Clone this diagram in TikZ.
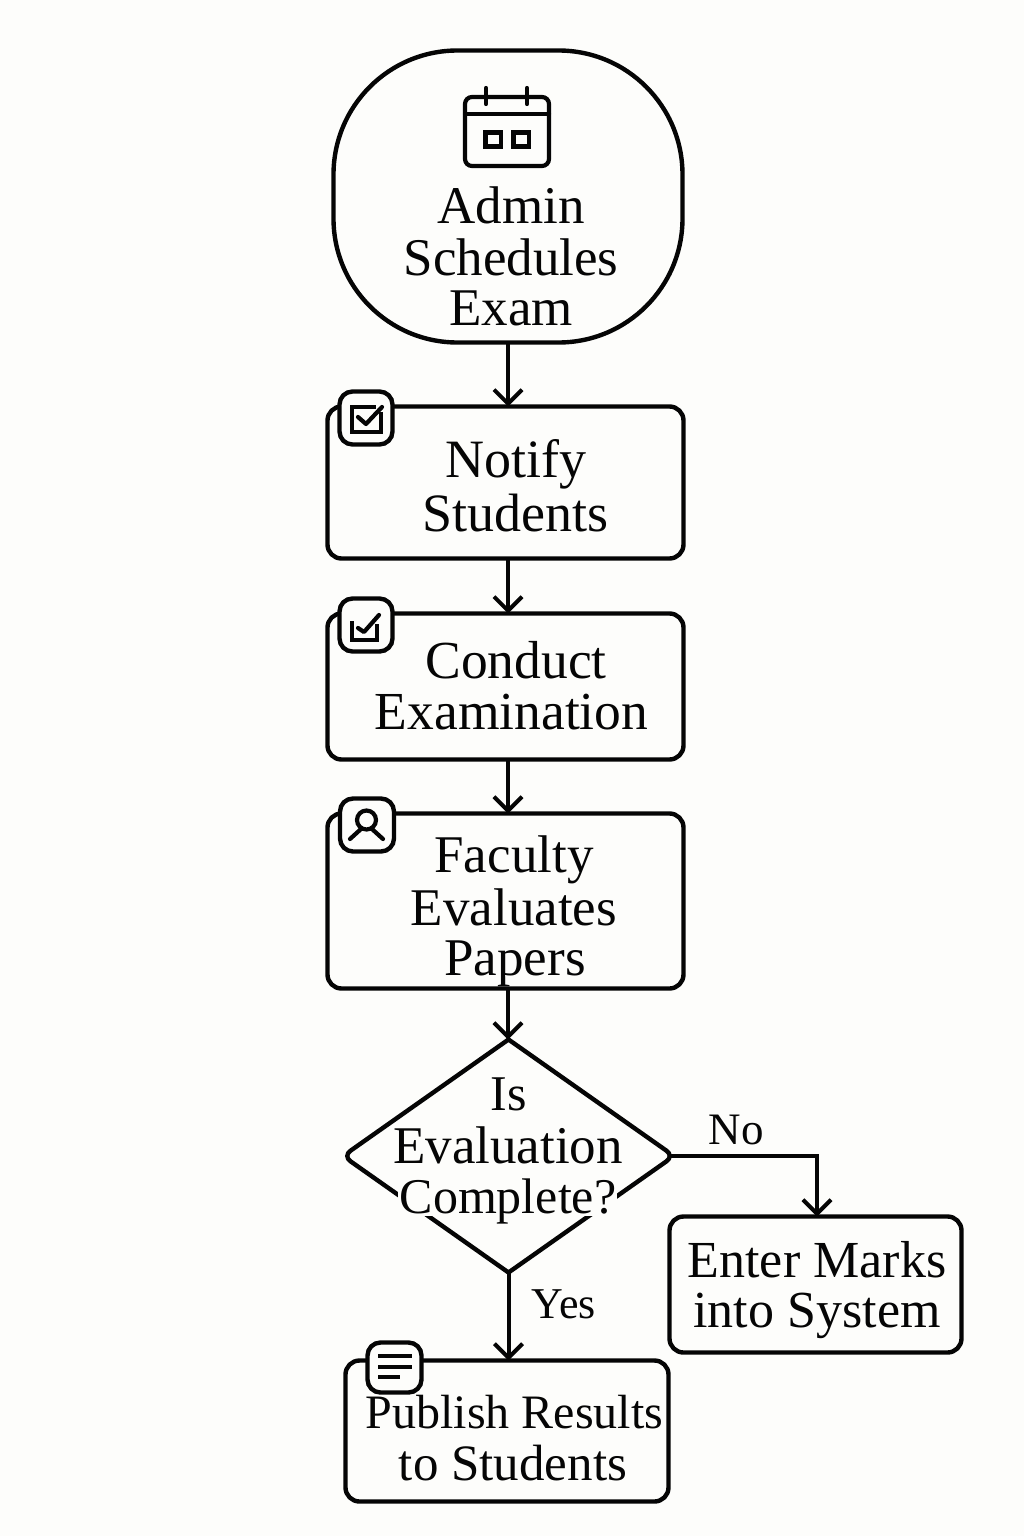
\documentclass[tikz,border=0pt]{standalone}
\usepackage{fontspec}
\setmainfont{Liberation Serif}
\usetikzlibrary{arrows.meta,shapes.geometric}
\definecolor{page}{HTML}{FDFDFB}
\definecolor{ink}{HTML}{050505}
\tikzset{
  outline/.style={draw=ink,line width=4.4pt,fill=page,inner sep=0pt,outer sep=0pt},
  startbox/.style={outline,rectangle,rounded corners=124pt},
  procbox/.style={outline,rectangle,rounded corners=14pt},
  badge/.style={outline,rectangle,rounded corners=13pt,minimum width=53pt,minimum height=53pt},
  decisionshape/.style={diamond,inner sep=0pt,outer sep=0pt,minimum width=331pt,minimum height=233pt},
  lbl/.style={inner sep=0pt,align=center,text=ink,font=\fontsize{#1}{50}\selectfont},
  lbl/.default=53,
  edgelbl/.style={inner sep=0pt,text=ink,anchor=base,font=\fontsize{#1}{50}\selectfont},
  flow/.style={draw=ink,line width=4pt,-{Straight Barb[length=14pt,width=28pt,line width=4pt]}},
  icon/.style={draw=ink,line width=4.2pt,line cap=round,line join=round},
}
\begin{document}
\begin{tikzpicture}[x=1pt,y=-1pt]
\useasboundingbox (0,0) rectangle (1024,1536);
\fill[page] (0,0) rectangle (1024,1536);

% shapes
\node[startbox,minimum width=349pt,minimum height=292pt] (start) at (508,196.5) {};
\node[procbox,minimum width=356pt,minimum height=152pt] (notify) at (505.5,482.5) {};
\node[procbox,minimum width=356pt,minimum height=146pt] (conduct) at (505.5,686.5) {};
\node[procbox,minimum width=356pt,minimum height=175pt] (faculty) at (505.5,901) {};
\node[decisionshape] (decision) at (508.5,1156) {};
\draw[draw=ink,line width=4.4pt,fill=page,line join=round]
  (decision.north) [rounded corners=9pt] -- (decision.east) [sharp corners] -- (decision.south)
  [rounded corners=9pt] -- (decision.west) [sharp corners] -- cycle;
\node[procbox,minimum width=292pt,minimum height=136pt] (enter) at (815.5,1284.5) {};
\node[procbox,minimum width=323pt,minimum height=141pt] (publish) at (507,1431) {};

% connectors
\draw[flow] (start.south) -- (start.south |- notify.north);
\draw[flow] (start.south |- notify.south) -- (start.south |- conduct.north);
\draw[flow] (start.south |- conduct.south) -- (start.south |- faculty.north);
\draw[flow] (start.south |- faculty.south) -- (start.south |- decision.north);
\draw[flow] (decision.south) -- (decision.south |- publish.north);
\draw[flow] ([xshift=-6pt]decision.east) -| ([xshift=1.5pt]enter.north);

% badges
\node[badge] (b1) at (366,418) {};
\node[badge] (b2) at (366,625) {};
\node[badge,minimum width=54pt] (b3) at (367,825) {};
\node[badge,minimum width=54pt,minimum height=50pt] (b4) at (394.5,1367.5) {};

% calendar icon
\draw[icon,rounded corners=7pt] (465,97) rectangle (549,166);
\draw[icon] (465,114) -- (549,114);
\draw[icon] (486,88) -- (486,104);
\draw[icon] (527,88) -- (527,104);
\draw[icon,line cap=butt,line join=miter] (485.5,132.5) rectangle (501,146.5);
\draw[icon,line cap=butt,line join=miter] (513.5,132.5) rectangle (529,146.5);

% notify check
\draw[icon,line cap=butt,line join=miter] (376,407) -- (352,407) -- (352,432) -- (381,432) -- (381,412);
\draw[icon] (358,417) -- (366,424) -- (382,407);
% conduct check
\draw[icon,line cap=butt,line join=miter] (352,621) -- (352,640) -- (377,640) -- (377,624);
\draw[icon] (358,628) -- (364,632) -- (379,615);
% person
\draw[icon] (366.5,820) circle (9.5pt);
\draw[icon] (361,829) -- (350,839);
\draw[icon] (372,829) -- (383,839);
% text lines
\draw[icon,line cap=butt] (378,1356) -- (412,1356);
\draw[icon,line cap=butt] (378,1367) -- (412,1367);
\draw[icon,line cap=butt] (378,1377) -- (400,1377);

% halo behind the decision's last line
\fill[page] (398,1178) rectangle (617,1216);

% labels
\node[lbl] (tstart) at (511,263.5) {\strut Admin\\\strut Schedules\\\strut Exam};
\node[lbl=54] (tnotify) at (515.5,493) {\strut Notify\\\strut Students};
\node[lbl=53.5] (tconduct) at (511.5,693) {\strut\hspace{9pt}Conduct\\\strut Examination};
\node[lbl=53] (tfaculty) at (514,913) {\strut Faculty\\\strut Evaluates\\\strut\hspace{2pt}Papers};
\node[lbl=50] (tdecision) at (508,1152) {\strut\hspace{2pt}Is\\\strut \fontsize{53}{50}\selectfont Evaluation\\\strut Complete?};
\node[lbl=52] (tenter) at (817,1292) {\strut Enter Marks\\\strut into System};
\node[lbl=48] (tpublish) at (513,1444.5) {\strut\hspace{3pt}Publish Results\\\strut\fontsize{51}{50}\selectfont to Students};

\node[edgelbl=45] (no) at (736,1144) {No};
\node[edgelbl=44] (yes) at (564,1318) {Yes};
\end{tikzpicture}
\end{document}
